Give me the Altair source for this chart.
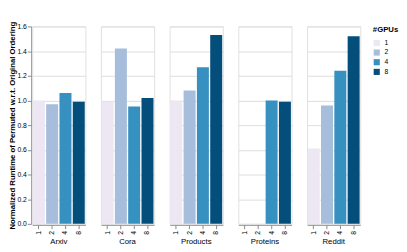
import altair as alt
import pandas as pd

datasets = ["Arxiv", "Cora", "Products", "Proteins", "Reddit"]
gpus = ["1", "2", "4", "8"]
values = {
    "Arxiv": [1.0, 0.97, 1.06, 0.99],
    "Cora": [0.99, 1.42, 0.95, 1.02],
    "Products": [1.0, 1.08, 1.27, 1.53],
    "Proteins": [0.0, 0.0, 1.0, 0.99],
    "Reddit": [0.61, 0.96, 1.24, 1.52],
}
colors = ["#ece7f2", "#a6bddb", "#3690c0", "#034e7b"]

rows = []
for d in datasets:
    for g, v in zip(gpus, values[d]):
        rows.append({"dataset": d, "gpus": g, "value": v})
df = pd.DataFrame(rows)

chart = alt.Chart(df).mark_bar().encode(
    x=alt.X("gpus:O", title=None, sort=gpus,
            axis=alt.Axis(labelAngle=-90, labelFontSize=7, labelPadding=2, tickSize=4)),
    y=alt.Y("value:Q", title="Normalized Runtime of Permuted w.r.t. Original Ordering",
            scale=alt.Scale(domain=[0, 1.6]),
            axis=alt.Axis(tickCount=8, labelFontSize=7, titleFontSize=8, format=".1f",
                          tickSize=4, labelPadding=1, titlePadding=1)),
    color=alt.Color("gpus:O", scale=alt.Scale(domain=gpus, range=colors),
                    legend=alt.Legend(title="#GPUs", titleFontSize=8, labelFontSize=7,
                                      symbolType="square", symbolSize=40, offset=12)),
).properties(width=55, height=204).facet(
    column=alt.Column("dataset:N", sort=datasets, title=None,
                      header=alt.Header(labelOrient="bottom", labelFontSize=8, labelPadding=4))
).configure_facet(spacing=14).configure_view(stroke="#e0e0e0").properties(
    padding={"left": 0, "top": 9, "right": 0, "bottom": 0}
)

chart.save("out.html", embed_options={"renderer": "svg", "actions": False})
